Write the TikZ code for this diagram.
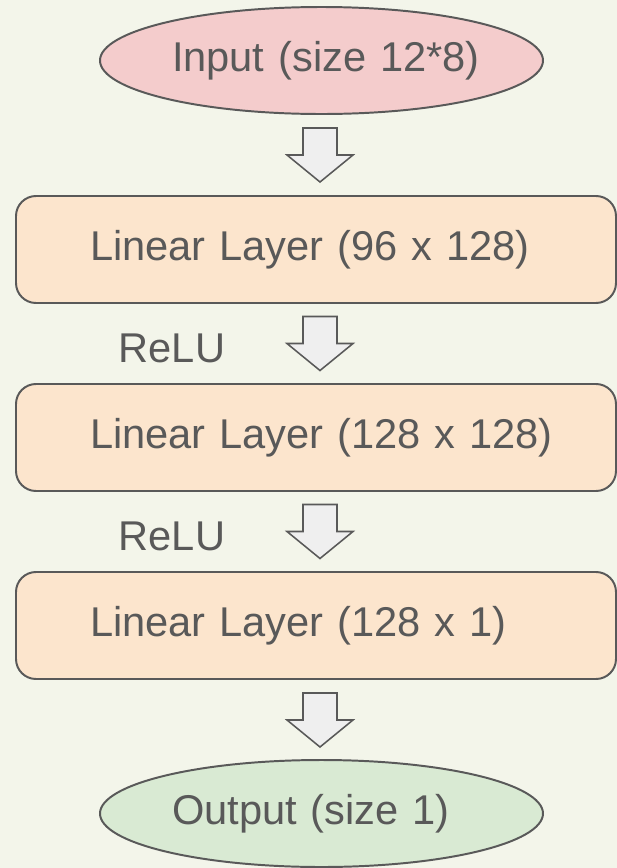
\documentclass[tikz,border=0pt]{standalone}
\usepackage{fontspec}
\setmainfont{Liberation Sans}
\usetikzlibrary{shapes.geometric}

\definecolor{bgcream}{HTML}{F3F5EA}
\definecolor{inkgray}{HTML}{595959}
\definecolor{inpink}{HTML}{F4CCCC}
\definecolor{linorange}{HTML}{FCE5CD}
\definecolor{outgreen}{HTML}{D9EAD3}
\definecolor{arrowgray}{HTML}{EFEFEF}

\tikzset{
  every node/.style={font=\fontsize{29.6}{36}\selectfont, text=inkgray},
  % text starts at a fixed left edge and runs on, no wrapping
  lefttext/.style={text width=#1, align=left,
    execute at begin node={\hbox to 0pt\bgroup}, execute at end node={\hss\egroup}},
  linbox/.style={draw=inkgray, line width=1.4pt, fill=linorange, rounded corners=0.5cm,
    minimum width=15cm, minimum height=2.675cm, inner sep=0pt, lefttext=11.3cm},
  iobox/.style={ellipse, draw=inkgray, line width=1.4pt, minimum width=11.075cm,
    minimum height=2.675cm, inner sep=0pt, lefttext=7.475cm},
  blockarrow/.pic={
    \draw[draw=inkgray, line width=1.1pt, fill=arrowgray, line join=miter]
      (-0.425,0.675) -- (0.425,0.675) -- (0.425,0) -- (0.825,0) -- (0,-0.675)
      -- (-0.825,0) -- (-0.425,0) -- cycle;
  }
}

\begin{document}
\begin{tikzpicture}

\fill[bgcream] (0,0) rectangle (15.425,-21.7);
\useasboundingbox (0,0) rectangle (15.425,-21.7);

\node[iobox, fill=inpink] (input) at (8.0375,-1.5125) {Input (size 12*8)};
\node[linbox] (lin1) at (7.9,-6.2375) {Linear Layer (96 x 128)};
\node[linbox] (lin2) at (7.9,-10.9375) {Linear Layer (128 x 128)};
\node[linbox] (lin3) at (7.9,-15.6375) {Linear Layer (128 x 1)};
\node[iobox, fill=outgreen] (output) at (8.0375,-20.3375) {Output (size 1)};

% block arrows between the layers
\pic (a1) at (8,-3.875) {blockarrow};
\pic (a2) at (8,-8.5875) {blockarrow};
\pic (a3) at (8,-13.2875) {blockarrow};
\pic (a4) at (8,-18.0) {blockarrow};

\node (relu1) at (4.3,-8.7) {ReLU};
\node (relu2) at (4.3,-13.4) {ReLU};

\end{tikzpicture}
\end{document}
